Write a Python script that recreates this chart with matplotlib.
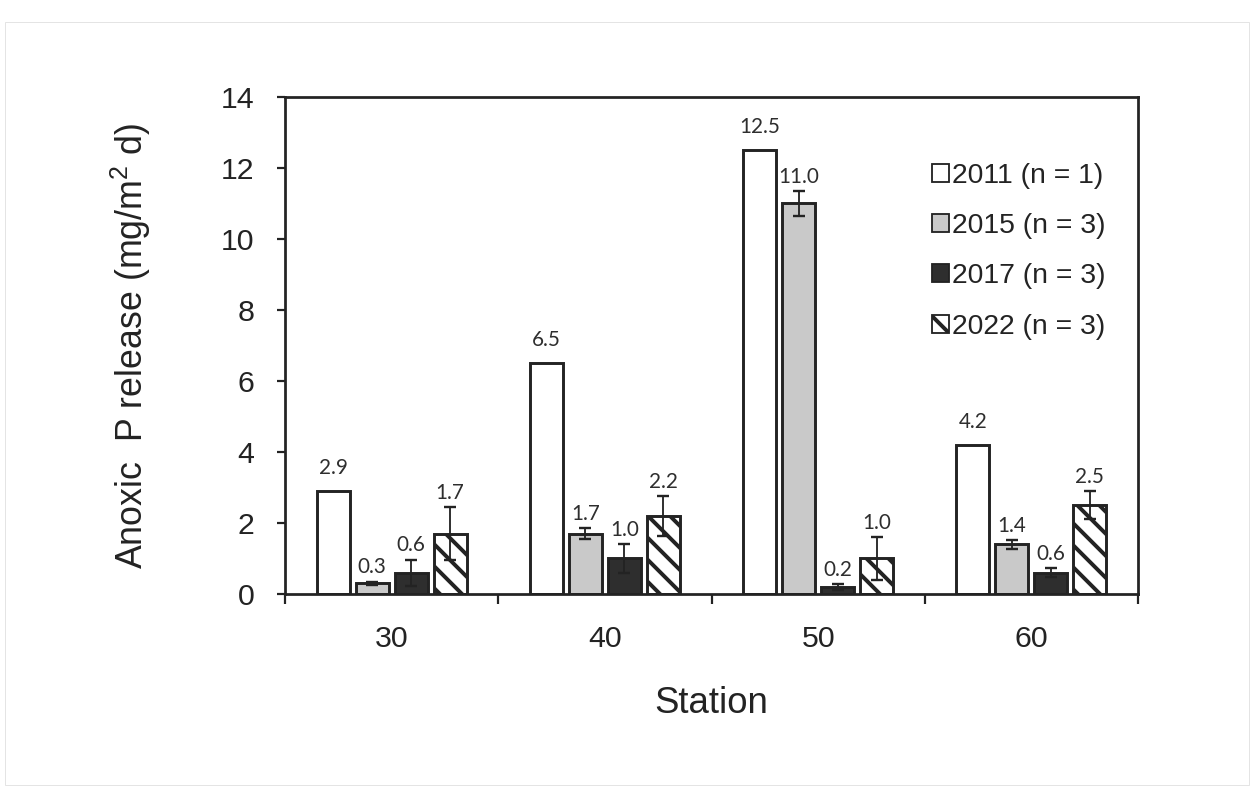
import numpy as np
import matplotlib
matplotlib.use('Agg')
import matplotlib.pyplot as plt
from matplotlib.patches import Patch, Rectangle

# ______________________________DATA______________________________
stations = ['30', '40', '50', '60']
years = ['2011 (n = 1)', '2015 (n = 3)', '2017 (n = 3)', '2022 (n = 3)']

release_2011 = [2.9, 6.5, 12.5, 4.2]
release_2015 = [0.3, 1.7, 11.0, 1.4]
release_2017 = [0.6, 1.0, 0.2, 0.6]
release_2022 = [1.7, 2.2, 1.0, 2.5]

err_2011 = [0, 0, 0, 0]
err_2015 = [0.05, 0.15, 0.35, 0.12]
err_2017 = [0.37, 0.4, 0.08, 0.12]
err_2022 = [0.75, 0.56, 0.6, 0.4]

# ______________________________STYLE_____________________________
DPI = 66   # hatch spacing follows dpi, 66 gives the stripe pitch of the scan
ink = '#232323'
plt.rcParams['font.family'] = 'Liberation Sans'
plt.rcParams['mathtext.fontset'] = 'custom'
plt.rcParams['mathtext.rm'] = 'Liberation Sans'
plt.rcParams['hatch.linewidth'] = 4.3
plt.rcParams['hatch.color'] = ink

series = [
    (release_2011, err_2011, 'white', ''),
    (release_2015, err_2015, '#c9c9c9', ''),
    (release_2017, err_2017, '#2e2e2e', ''),
    (release_2022, err_2022, 'white', '\\'),
]

fig = plt.figure(figsize=(1254 / DPI, 799 / DPI), dpi=DPI)
ax = fig.add_axes([0.2273, 0.2566, 0.6802, 0.622])

# faint border of the scanned page
fig.patches.append(Rectangle((0.004, 0.018), 0.992, 0.955, transform=fig.transFigure,
                             fill=False, edgecolor='#e2e2e2', linewidth=1))

x = np.arange(len(stations))
pitch = 0.183
width = 0.155

for i, (vals, errs, color, hatch) in enumerate(series):
    xi = x + (i - 1.5) * pitch
    ax.bar(xi, vals, width=width, color=color, edgecolor=ink, linewidth=3.2,
           hatch=hatch, zorder=2)
    if any(errs):
        ax.errorbar(xi, vals, yerr=errs, fmt='none', ecolor=ink, elinewidth=2.0,
                    capsize=6.5, capthick=2.6, zorder=3)
    for xv, v, e in zip(xi, vals, errs):
        off = 4.5 if e else 14
        ax.annotate('%.1f' % v, (xv, v + e), xytext=(0, off), textcoords='offset points',
                    ha='center', va='bottom', fontsize=22.5, family='Lato', color='#2e2e2e')

ax.set_xlim(-0.5, 3.5)
ax.set_ylim(0, 14)
ax.set_yticks(np.arange(0, 15, 2))
ax.set_xticks(x)
ax.set_xticklabels(stations)
ax.set_xticks(np.arange(-0.5, 4, 1), minor=True)

ax.tick_params(axis='x', which='major', length=0, pad=34, labelsize=33, labelcolor=ink)
ax.tick_params(axis='x', which='minor', length=11, width=2.4, direction='out', color=ink)
ax.tick_params(axis='y', length=8.5, width=2.4, direction='out', pad=25, labelsize=33,
               labelcolor=ink, color=ink)

for sp in ax.spines.values():
    sp.set_linewidth(3.0)
    sp.set_color(ink)

ax.set_xlabel('Station', fontsize=40, color=ink)
ax.set_ylabel(r'Anoxic  P release (mg/m$^{\mathregular{2}}$ d)', fontsize=39, color=ink)
ax.xaxis.set_label_coords(0.5, -0.185)
ax.yaxis.set_label_coords(-0.155, 0.5)

handles = [Patch(facecolor=c, edgecolor=ink, hatch=h, linewidth=2.0) for _, _, c, h in series]
ax.legend(handles, years, loc='upper left', bbox_to_anchor=(0.7585, 0.867), frameon=False,
          fontsize=31, handlelength=0.6, handleheight=0.6, handletextpad=0.12,
          labelspacing=0.85, borderpad=0, borderaxespad=0, labelcolor=ink)

fig.savefig('out.png', dpi=DPI)
